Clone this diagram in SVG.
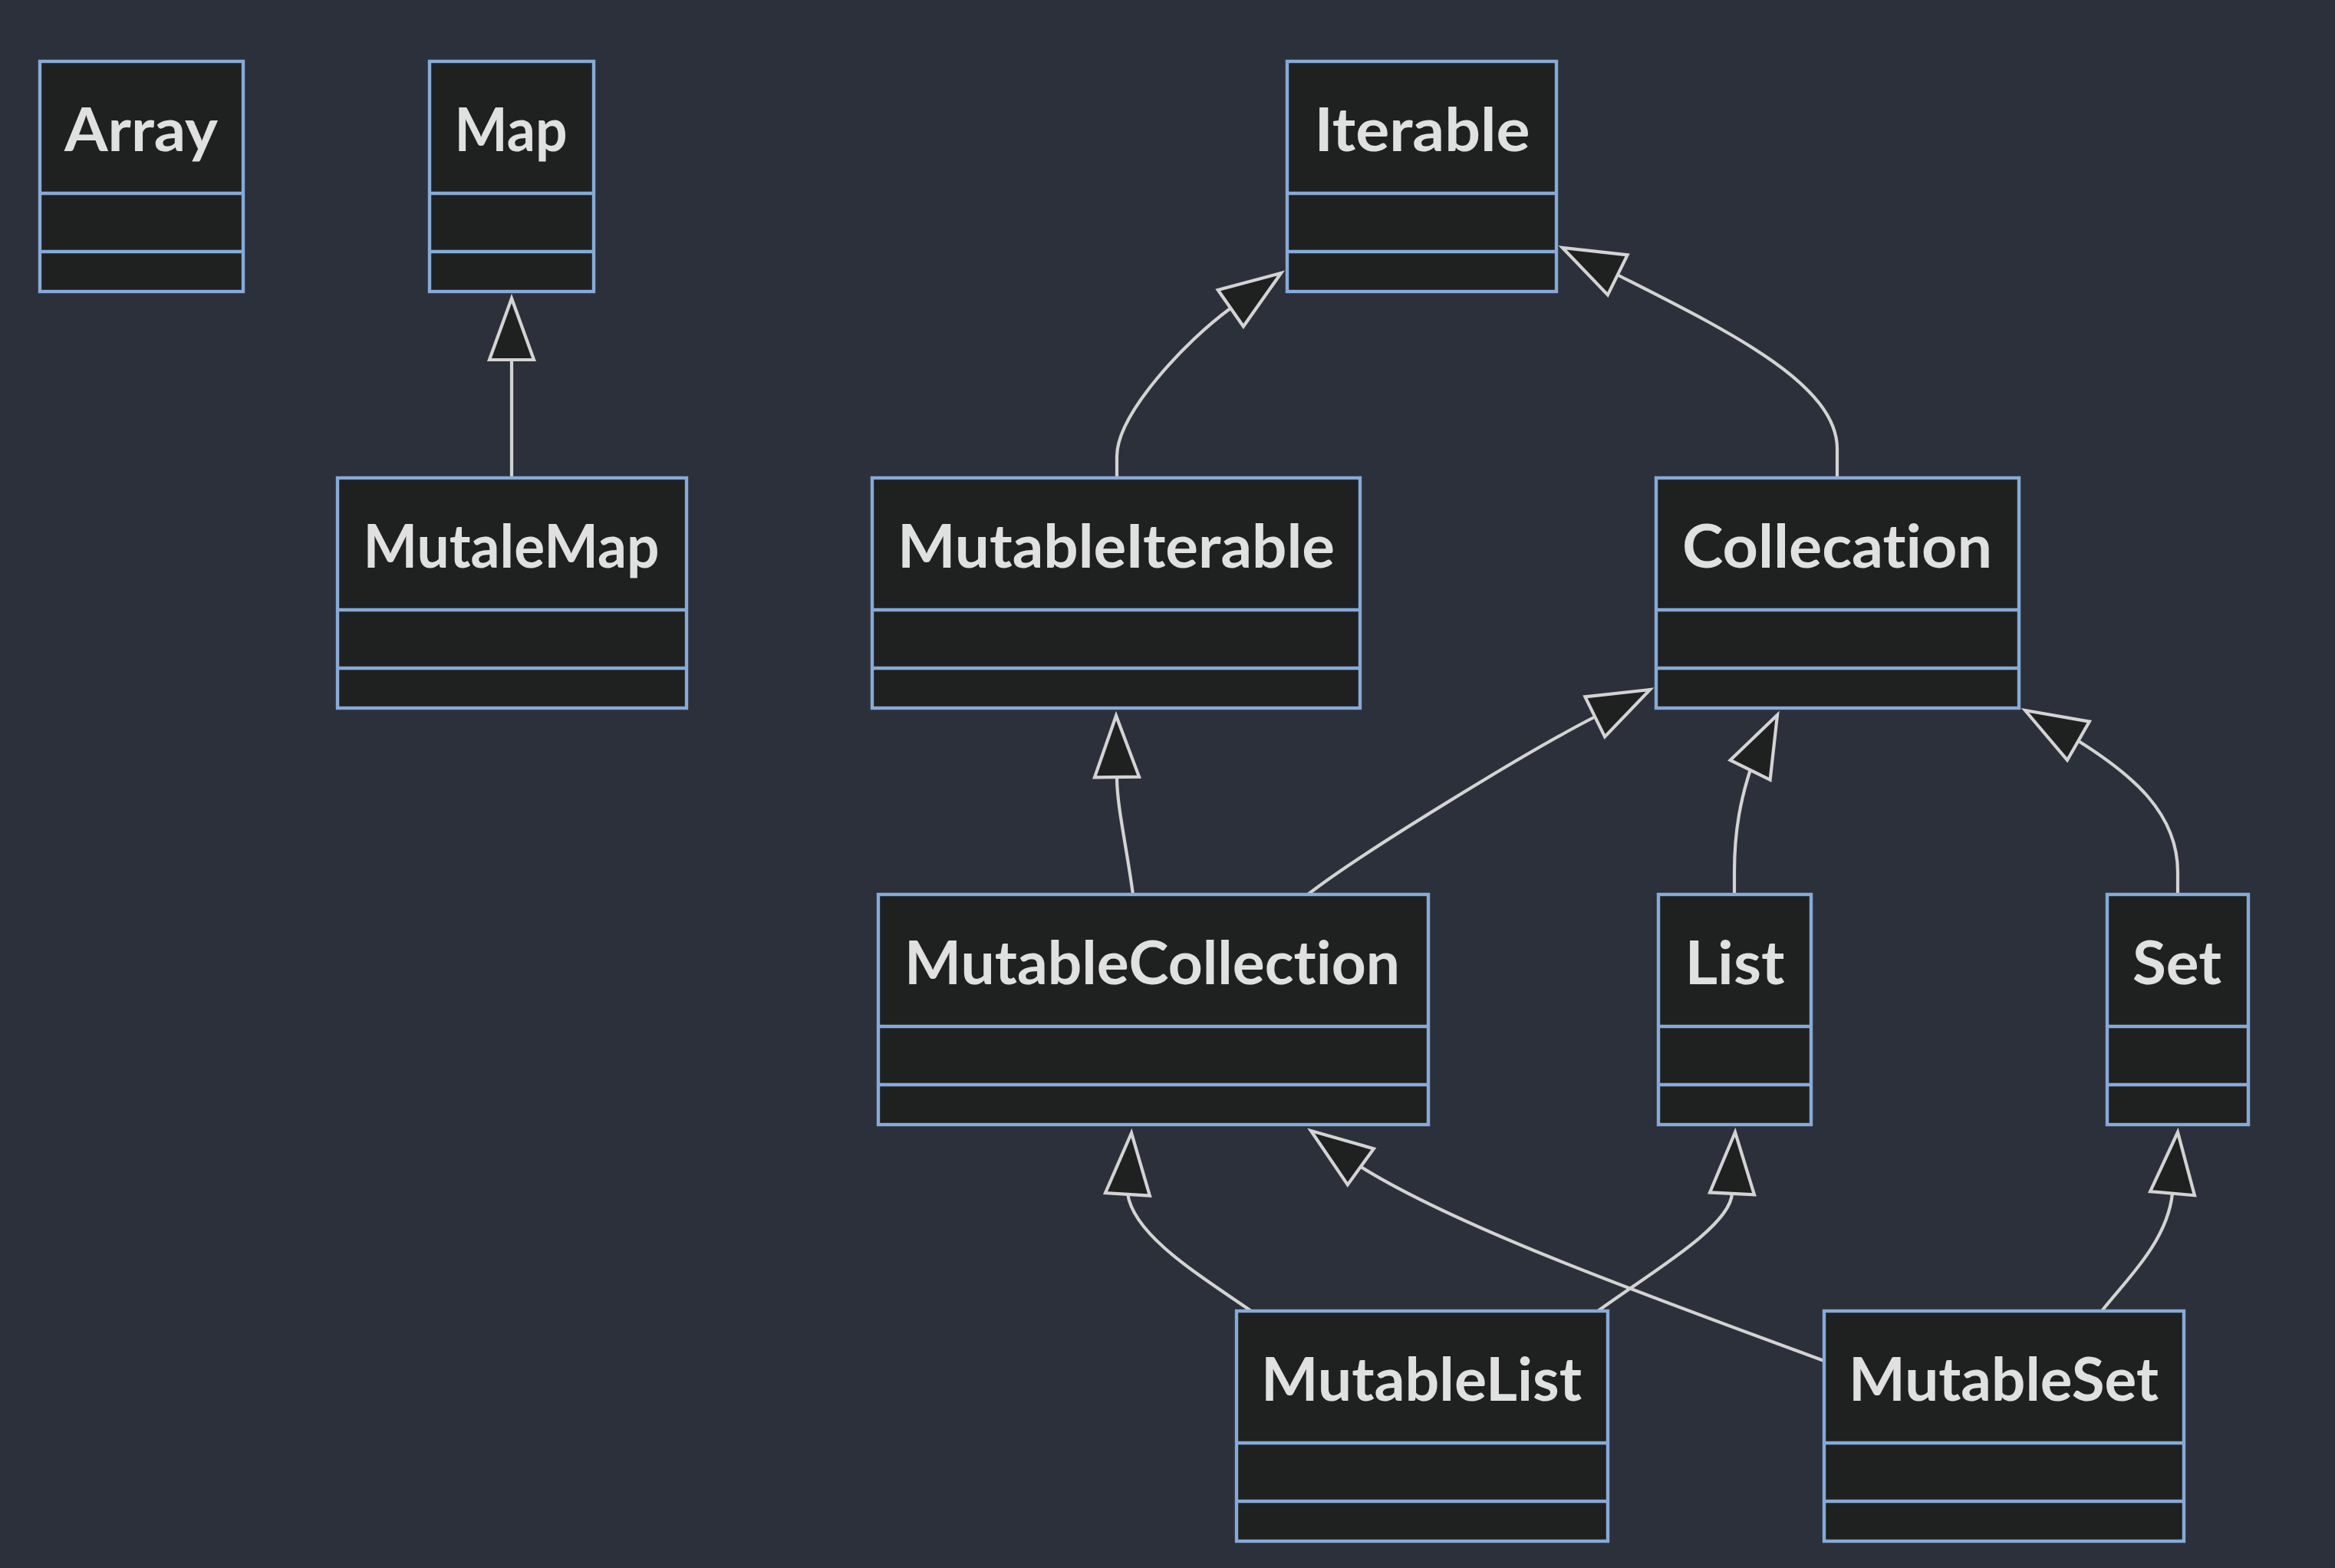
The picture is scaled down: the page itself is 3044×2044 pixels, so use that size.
<svg xmlns="http://www.w3.org/2000/svg" width="3044" height="2044" viewBox="0 0 3044 2044">
<style>
.bg{fill:#2c303b}
.box{fill:#1f2020;stroke:#86aad8;stroke-width:4.4}
.div{stroke:#86aad8;stroke-width:4.4}
.lbl{font-family:Lato,"Open Sans","DejaVu Sans",sans-serif;font-weight:bold;font-size:79px;fill:#e0e0e0;text-anchor:middle;font-variant-ligatures:none;font-feature-settings:"liga" 0,"clig" 0}
.edge{fill:none;stroke:#d3d3d3;stroke-width:4.2;marker-end:url(#ext)}
</style>
<defs>
<marker id="ext" markerUnits="userSpaceOnUse" viewBox="-90 -40 100 80" markerWidth="100" markerHeight="80" refX="0" refY="0" orient="auto" overflow="visible">
<path d="M0,0 L-80,-29 L-80,29 Z" fill="#1f2020" stroke="#d3d3d3" stroke-width="4.2"/>
</marker>
</defs>
<rect class="bg" x="0" y="0" width="3044" height="2044"/>
<g id="connectors">
<path class="edge" d="M667,623 L667,389"/>
<path class="edge" d="M1456,623 L1456,595 C1456,540 1545,445 1604,402 L1670,356"/>
<path class="edge" d="M2395,621 L2395,585 C2395,500 2250,430 2110,359 L2037,323"/>
<path class="edge" d="M1477,1166 C1468,1100 1456,1050 1456,1013 L1455,933"/>
<path class="edge" d="M1705,1166 C1770,1115 1990,980 2080,934 L2151,899"/>
<path class="edge" d="M2261,1166 L2261,1137 C2261,1080 2270,1040 2282,1003 L2317,932"/>
<path class="edge" d="M2839,1166 L2839,1137 C2839,1060 2780,1010 2708,965 L2640,926"/>
<path class="edge" d="M1631,1709 C1560,1660 1478,1610 1470,1556 L1475,1477"/>
<path class="edge" d="M2378,1774 C2150,1690 1900,1600 1774,1521 L1709,1474"/>
<path class="edge" d="M2083,1709 C2150,1660 2255,1600 2258,1556 L2262,1476"/>
<path class="edge" d="M2740,1709 C2770,1670 2825,1620 2832,1556 L2839,1476"/>
</g>
<g id="node-Array">
<rect class="box" x="52" y="80" width="265" height="300"/>
<line class="div" x1="52" y1="252" x2="317" y2="252"/><line class="div" x1="52" y1="328" x2="317" y2="328"/>
<text class="lbl" x="184" y="197" textLength="200" lengthAdjust="spacingAndGlyphs">Array</text>
</g>
<g id="node-Map">
<rect class="box" x="560" y="80" width="214" height="300"/>
<line class="div" x1="560" y1="252" x2="774" y2="252"/><line class="div" x1="560" y1="328" x2="774" y2="328"/>
<text class="lbl" x="666" y="197" textLength="147" lengthAdjust="spacingAndGlyphs">Map</text>
</g>
<g id="node-MutaleMap">
<rect class="box" x="440" y="623" width="455" height="300"/>
<line class="div" x1="440" y1="795" x2="895" y2="795"/><line class="div" x1="440" y1="871" x2="895" y2="871"/>
<text class="lbl" x="666.5" y="740" textLength="386" lengthAdjust="spacingAndGlyphs">MutaleMap</text>
</g>
<g id="node-Iterable">
<rect class="box" x="1678" y="80" width="351" height="300"/>
<line class="div" x1="1678" y1="252" x2="2029" y2="252"/><line class="div" x1="1678" y1="328" x2="2029" y2="328"/>
<text class="lbl" x="1854" y="197" textLength="281" lengthAdjust="spacingAndGlyphs">Iterable</text>
</g>
<g id="node-MutableIterable">
<rect class="box" x="1137" y="623" width="636" height="300"/>
<line class="div" x1="1137" y1="795" x2="1773" y2="795"/><line class="div" x1="1137" y1="871" x2="1773" y2="871"/>
<text class="lbl" x="1455" y="740" textLength="570" lengthAdjust="spacingAndGlyphs">MutableIterable</text>
</g>
<g id="node-Collecation">
<rect class="box" x="2159" y="623" width="473" height="300"/>
<line class="div" x1="2159" y1="795" x2="2632" y2="795"/><line class="div" x1="2159" y1="871" x2="2632" y2="871"/>
<text class="lbl" x="2395" y="740" textLength="404" lengthAdjust="spacingAndGlyphs">Collecation</text>
</g>
<g id="node-MutableCollection">
<rect class="box" x="1145" y="1166" width="717" height="300"/>
<line class="div" x1="1145" y1="1338" x2="1862" y2="1338"/><line class="div" x1="1145" y1="1414" x2="1862" y2="1414"/>
<text class="lbl" x="1502" y="1283" textLength="646" lengthAdjust="spacingAndGlyphs">MutableCollection</text>
</g>
<g id="node-List">
<rect class="box" x="2162" y="1166" width="199" height="300"/>
<line class="div" x1="2162" y1="1338" x2="2361" y2="1338"/><line class="div" x1="2162" y1="1414" x2="2361" y2="1414"/>
<text class="lbl" x="2261.5" y="1283" textLength="130" lengthAdjust="spacingAndGlyphs">List</text>
</g>
<g id="node-Set">
<rect class="box" x="2747" y="1166" width="184" height="300"/>
<line class="div" x1="2747" y1="1338" x2="2931" y2="1338"/><line class="div" x1="2747" y1="1414" x2="2931" y2="1414"/>
<text class="lbl" x="2838" y="1283" textLength="116" lengthAdjust="spacingAndGlyphs">Set</text>
</g>
<g id="node-MutableList">
<rect class="box" x="1612" y="1709" width="484" height="300"/>
<line class="div" x1="1612" y1="1881" x2="2096" y2="1881"/><line class="div" x1="1612" y1="1957" x2="2096" y2="1957"/>
<text class="lbl" x="1853" y="1826" textLength="418" lengthAdjust="spacingAndGlyphs">MutableList</text>
</g>
<g id="node-MutableSet">
<rect class="box" x="2378" y="1709" width="469" height="300"/>
<line class="div" x1="2378" y1="1881" x2="2847" y2="1881"/><line class="div" x1="2378" y1="1957" x2="2847" y2="1957"/>
<text class="lbl" x="2612" y="1826" textLength="404" lengthAdjust="spacingAndGlyphs">MutableSet</text>
</g>
</svg>
